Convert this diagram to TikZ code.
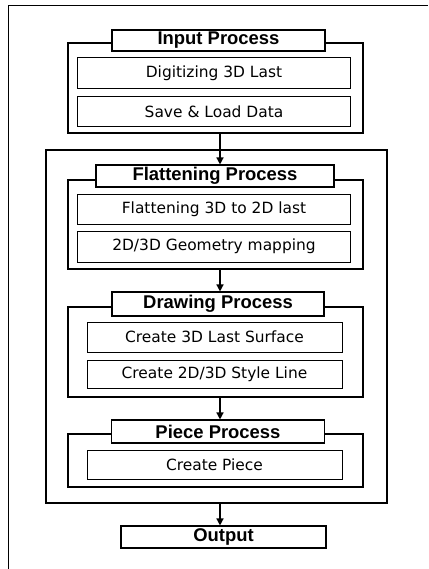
\documentclass[tikz,border=0pt]{standalone}
\usepackage{fontspec}
\setmainfont{DejaVu Sans}
\newfontfamily\titlefont{Liberation Sans}[BoldFont={Liberation Sans Bold}]
\usetikzlibrary{arrows.meta}

\begin{document}
\begin{tikzpicture}[x=1bp,y=-1bp,
  frameline/.style={line width=1bp},
  group/.style={draw,line width=1.1bp,inner sep=0pt},
  title/.style={draw,fill=white,line width=1.1bp,inner sep=0pt,
    font=\titlefont\bfseries\fontsize{18.5}{21}\selectfont},
  task/.style={draw,fill=white,line width=1bp,inner sep=0pt,
    font=\fontsize{15.5}{18}\selectfont},
  flow/.style={line width=1.4bp,-{Triangle[length=7bp,width=7bp]}}]
\useasboundingbox (0,0) rectangle (428,569);

% page frame (open at the right and bottom)
\coordinate (fb) at (8,569);
\coordinate (ft) at (8,6);
\coordinate (fr) at (428,6);
\draw[frameline] (fb) -- (ft) -- (fr);

% column of the flow arrows
\coordinate (axis) at (220,0);

% large frame around flattening, drawing and piece stages
\node[group,minimum width=341bp,minimum height=353bp] (core) at (216.5,326.5) {};

% input stage
\node[group,minimum width=295bp,minimum height=90bp] (ingrp) at (215.5,88) {};
\node[title,minimum width=213bp,minimum height=21bp] (intitle) at (218.5,40.5) {Input Process};
\node[task,minimum width=272bp,minimum height=31bp] (digit) at (214,73.5) {Digitizing 3D Last};
\node[task,minimum width=272bp,minimum height=30bp] (save) at (214,112) {Save \& Load Data};

% flattening stage
\node[group,minimum width=295bp,minimum height=89bp] (flgrp) at (215.5,224.5) {};
\node[title,minimum width=238bp,minimum height=22bp] (fltitle) at (215,176) {Flattening Process};
\node[task,minimum width=272bp,minimum height=30bp] (flat) at (214,209) {Flattening 3D to 2D last};
\node[task,minimum width=272bp,minimum height=31bp] (geom) at (214,246.5) {2D/3D Geometry mapping};

% drawing stage
\node[group,minimum width=295bp,minimum height=90bp] (drgrp) at (215.5,352) {};
\node[title,minimum width=212bp,minimum height=24bp] (drtitle) at (218,304) {Drawing Process};
\node[task,minimum width=255bp,minimum height=30bp] (surf) at (214.5,337) {Create 3D Last Surface};
\node[task,minimum width=255bp,minimum height=28bp] (style) at (214.5,374) {Create 2D/3D Style Line};

% piece stage
\node[group,minimum width=295bp,minimum height=53bp] (pcgrp) at (215.5,460.5) {};
\node[title,minimum width=213bp,minimum height=23bp] (pctitle) at (218,431.5) {Piece Process};
\node[task,minimum width=255bp,minimum height=29bp] (piece) at (214.5,464.5) {Create Piece};

% output
\node[title,minimum width=205bp,minimum height=22bp] (out) at (223.5,537) {Output};

% flow between stages
\draw[flow] (ingrp.south -| axis) -- (fltitle.north -| axis);
\draw[flow] (flgrp.south -| axis) -- (drtitle.north -| axis);
\draw[flow] (drgrp.south -| axis) -- (pctitle.north -| axis);
\draw[flow] (core.south -| axis) -- (out.north -| axis);
\end{tikzpicture}
\end{document}
